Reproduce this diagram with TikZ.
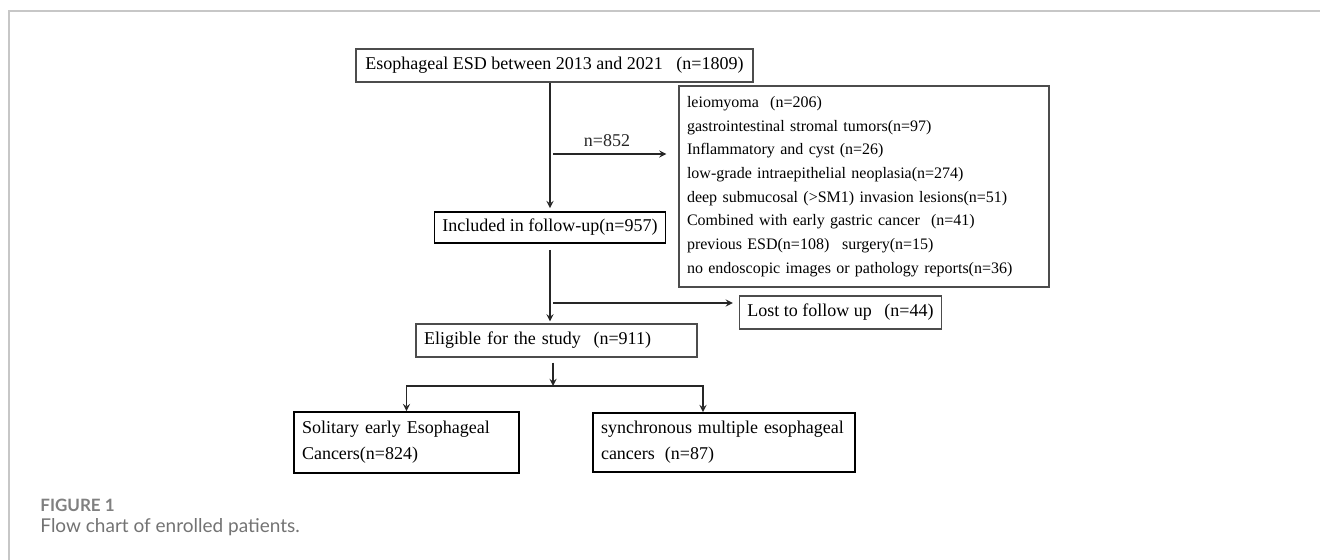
\documentclass[tikz,border=0pt]{standalone}
\usepackage{fontspec}
\setmainfont{Liberation Serif}
\newfontfamily\capfont{Lato}
\usepackage{xcolor}
\begin{document}
\begin{tikzpicture}[x=0.5pt,y=-0.5pt,
		box/.style={draw=black!70,line width=0.6pt,inner xsep=4pt,inner ysep=0pt,font=\fontsize{9}{11}\selectfont},
		boldbox/.style={box,draw=black,line width=0.9pt},
		arr/.style={-stealth,line width=0.6pt,black!85}]
		\useasboundingbox (0,0) rectangle (1320,560);
		\draw[black!22,line width=1pt](9,560)--(9,11)--(1320,11);
		% boxes
		\node[box,minimum width=198.5pt,minimum height=16.5pt] (total) at (554.5,65.5) {Esophageal ESD between 2013 and 2021\hspace{0.75em}(n=1809)};
		\node[box,minimum width=185pt,minimum height=100.5pt,text width=177pt,align=left,font=\fontsize{8}{11.85}\selectfont] (excl) at (864,186.5) {leiomyoma\hspace{0.7em}(n=206)\\ gastrointestinal stromal tumors(n=97)\\ Inflammatory and cyst (n=26)\\ low-grade intraepithelial neoplasia(n=274)\\ deep submucosal (>SM1) invasion lesions(n=51)\\ Combined with early gastric cancer\hspace{0.7em}(n=41)\\ previous ESD(n=108)\hspace{0.8em}surgery(n=15)\\ no endoscopic images or pathology reports(n=36)};
		\node[boldbox,minimum width=115pt,minimum height=15.5pt] (incl) at (550,227.5) {Included in follow-up(n=957)};
		\node[box,minimum width=99.5pt,minimum height=16.5pt] (lost) at (840.5,312.5) {Lost to follow up\hspace{0.7em}(n=44)};
		\node[box,minimum width=140.5pt,minimum height=16.5pt,text width=132.5pt,align=left] (elig) at (556.5,340.5) {Eligible for the study\hspace{0.7em}(n=911)};
		\node[boldbox,minimum width=112.5pt,minimum height=30.5pt,text width=104.5pt,align=left,font=\fontsize{9}{13}\selectfont] (soli) at (406.5,442.5) {Solitary early Esophageal\\ Cancers(n=824)};
		\node[boldbox,minimum width=131pt,minimum height=29.5pt,text width=123pt,align=left,font=\fontsize{9}{13}\selectfont] (sync) at (724,442.5) {synchronous multiple esophageal\\ cancers\hspace{0.55em}(n=87)};
		% connectors
		\coordinate (c852) at (553,154);
		\coordinate (clost) at (553,303);
		\coordinate (split) at (553,386);
		\draw[arr,shorten >=1.5pt](total.south -| incl.north)--(incl.north);
		\draw[arr,shorten >=6pt](c852)--(c852 -| excl.west)node[pos=0.43,above,font=\fontsize{9}{11}\selectfont]{n=852};
		\draw[arr,shorten <=3pt,shorten >=1pt](incl.south)--(incl.south |- elig.north);
		\draw[arr,shorten >=3pt](clost)--(clost -| lost.west);
		\draw[arr,shorten <=2.5pt](elig.south -| split)--(split);
		\draw[arr](split)-|(soli.north);
		\draw[arr](split)-|([xshift=-10.5pt]sync.north);
		% caption
		\node[anchor=west,inner sep=0pt,text=black!50,font=\capfont\bfseries\fontsize{8.5}{10}\selectfont] (figno) at (40,505) {FIGURE 1};
		\node[anchor=west,inner sep=0pt,text=black!55,font=\capfont\fontsize{9.5}{11}\selectfont] (figcap) at (40,527) {Flow chart of enrolled patients.};
\end{tikzpicture}
\end{document}
